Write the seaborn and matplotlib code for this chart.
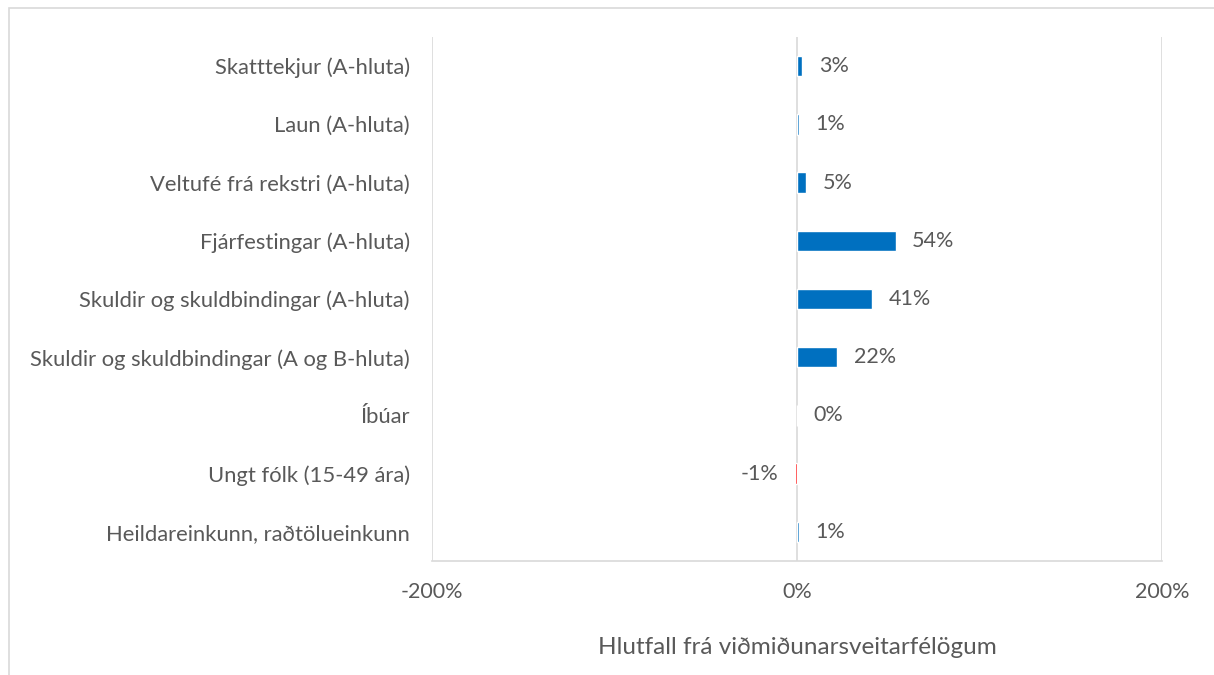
import numpy as np
import pandas as pd
import matplotlib
matplotlib.use("Agg")
import matplotlib.pyplot as plt
import seaborn as sns
from matplotlib.patches import Rectangle

sns.set_style("white")
plt.rcParams['font.family'] = ['Lato', 'DejaVu Sans']

categories = ['Skatttekjur (A-hluta)', 'Laun (A-hluta)', 'Veltufé frá rekstri (A-hluta)',
              'Fjárfestingar (A-hluta)', 'Skuldir og skuldbindingar (A-hluta)',
              'Skuldir og skuldbindingar (A og B-hluta)', 'Íbúar', 'Ungt fólk (15-49 ára)',
              'Heildareinkunn, raðtölueinkunn']
values = [3, 1, 5, 54, 41, 22, 0, -1, 1]
xticks = [-200, 0, 200]

df = pd.DataFrame({'flokkur': categories, 'hlutfall': values})
colors = ['#FF0000' if v < 0 else '#0070C0' for v in values]

grey = '#595959'
fig = plt.figure(figsize=(12.14, 6.75), dpi=100)
# rammi utan um myndina
fig.patches.append(Rectangle((9 / 1214, -0.1), 1.2, 1.1 - 8 / 675, transform=fig.transFigure,
                             fill=False, edgecolor='#D9D9D9', linewidth=1.2))
ax = fig.add_axes([432 / 1214, 1 - 561 / 675, (1162 - 432) / 1214, (561 - 37) / 675])

sns.barplot(data=df, x='hlutfall', y='flokkur', hue='flokkur', palette=colors,
            legend=False, width=0.35, orient='h', ax=ax, saturation=1)

ax.set_xlim(-200, 200)
ax.set_xticks(xticks)
ax.set_xticklabels([f'{t}%' for t in xticks], fontsize=15.5, color=grey)
ax.tick_params(axis='x', length=0, pad=15)
ax.tick_params(axis='y', length=0, pad=16, labelsize=15.8, labelcolor=grey)
ax.grid(axis='x', color='#D9D9D9', linewidth=1.2)
ax.set_axisbelow(True)
for s in ['top', 'right', 'left']:
    ax.spines[s].set_visible(False)
ax.spines['bottom'].set_color('#D9D9D9')
ax.spines['bottom'].set_linewidth(1.2)
ax.set_ylabel('')
ax.set_xlabel('Hlutfall frá viðmiðunarsveitarfélögum', fontsize=17.5, color=grey, labelpad=25)

for cont in ax.containers:
    ax.bar_label(cont, labels=[f'{v:.0f}%' for v in cont.datavalues], padding=12,
                 fontsize=15.5, color=grey)

fig.savefig('out.png', dpi=100)
